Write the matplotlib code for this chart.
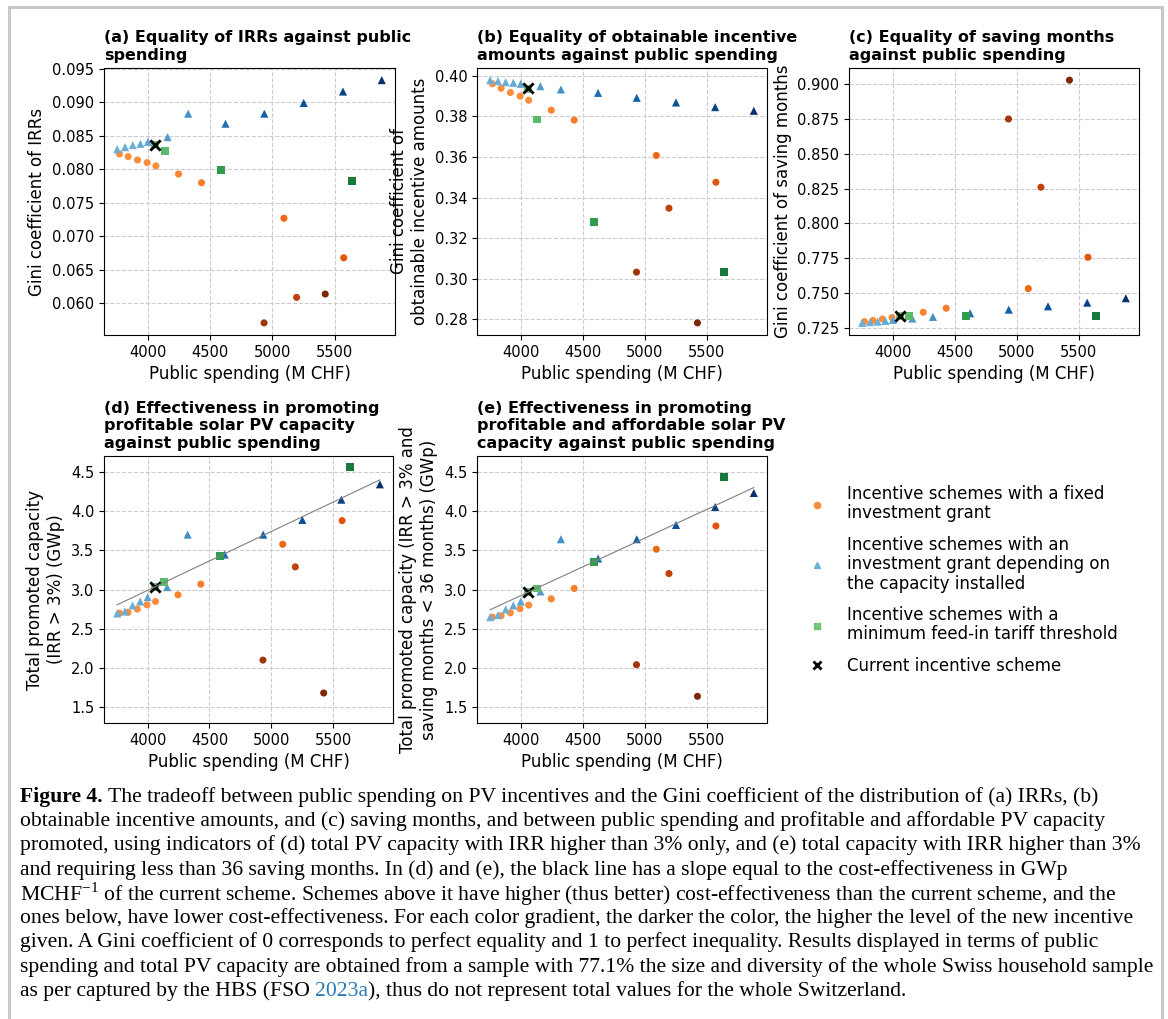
import matplotlib
matplotlib.use("Agg")
import matplotlib.pyplot as plt
from matplotlib.lines import Line2D
from matplotlib.patches import Rectangle

plt.rcParams["font.family"] = "DejaVu Sans"

# Datos
# Incentivo fijo (círculos naranjas), en orden de nivel de incentivo
fixed_spend = [3770, 3840, 3915, 3993, 4063, 4245, 4430, 5093, 5574, 5195, 4933, 5425]
fixed_gini_irr = [0.0823, 0.0819, 0.0814, 0.0810, 0.0805, 0.0793, 0.0780, 0.0727, 0.0668, 0.0609, 0.0571, 0.0614]
fixed_gini_amount = [0.3961, 0.3939, 0.3918, 0.3900, 0.3880, 0.3831, 0.3782, 0.3608, 0.3476, 0.3348, 0.3033, 0.2783]
fixed_gini_months = [0.7295, 0.7303, 0.7314, 0.7324, 0.7335, 0.7362, 0.7391, 0.7532, 0.7757, 0.8260, 0.8750, 0.9029]
fixed_cap = [2.699, 2.708, 2.750, 2.805, 2.847, 2.932, 3.068, 3.576, 3.877, 3.288, 2.101, 1.682]
fixed_cap_afford = [2.648, 2.665, 2.703, 2.754, 2.801, 2.881, 3.013, 3.513, 3.809, 3.203, 2.042, 1.640]
fixed_colors = ["#fd8d3c", "#fd8d3c", "#fd8d3c", "#fd8d3c", "#fd8d3c", "#fb8430", "#f87d2b",
                "#f06712", "#e4550c", "#c2410a", "#a1360a", "#7f2704"]

# Incentivo según capacidad instalada (triángulos azules)
cap_spend = [3752, 3815, 3877, 3939, 3999, 4157, 4323, 4623, 4935, 5252, 5568, 5880]
cap_gini_irr = [0.0830, 0.0833, 0.0836, 0.0838, 0.0841, 0.0848, 0.0883, 0.0868, 0.0883, 0.0899, 0.0916, 0.0933]
cap_gini_amount = [0.3979, 0.3974, 0.3969, 0.3966, 0.3961, 0.3949, 0.3933, 0.3916, 0.3892, 0.3869, 0.3846, 0.3828]
cap_gini_months = [0.7286, 0.7291, 0.7295, 0.7300, 0.7307, 0.7317, 0.7329, 0.7355, 0.7381, 0.7405, 0.7431, 0.7463]
cap_cap = [2.695, 2.720, 2.797, 2.847, 2.903, 3.030, 3.699, 3.445, 3.699, 3.886, 4.144, 4.339]
cap_cap_afford = [2.648, 2.674, 2.746, 2.797, 2.847, 2.975, 3.640, 3.394, 3.640, 3.822, 4.051, 4.229]
cap_colors = ["#6baed6", "#6baed6", "#6baed6", "#65a9d3", "#5fa4d0", "#539acb", "#4292c6",
              "#2171b5", "#1460a8", "#0b5199", "#0b4083", "#08306b"]

# Tarifa mínima de inyección (cuadrados verdes)
fit_spend = [4058, 4133, 4587, 5640]
fit_gini_irr = [0.0837, 0.0827, 0.0799, 0.0782]
fit_gini_amount = [0.3935, 0.3785, 0.3279, 0.3033]
fit_gini_months = [0.7334, 0.7334, 0.7334, 0.7334]
fit_cap = [3.034, 3.093, 3.424, 4.555]
fit_cap_afford = [2.966, 3.013, 3.347, 4.428]
fit_colors = ["#74c476", "#5db96b", "#2f9c50", "#177a3b"]

# Esquema actual
current_spend = 4058
current_gini_irr = 0.0837
current_gini_amount = 0.3941
current_gini_months = 0.7334
current_cap = 3.034
current_cap_afford = 2.966

W, H = 1168, 1019
fig = plt.figure(figsize=(W / 100, H / 100), dpi=100)


def px_axes(left, right, top, bottom):
    return fig.add_axes([left / W, 1 - bottom / H, (right - left) / W, (bottom - top) / H])


panels = [
    (px_axes(104, 395, 68, 335), fixed_gini_irr, cap_gini_irr, fit_gini_irr, current_gini_irr,
     "(a) Equality of IRRs against public\nspending", "Gini coefficient of IRRs", False),
    (px_axes(477, 767, 68, 335), fixed_gini_amount, cap_gini_amount, fit_gini_amount, current_gini_amount,
     "(b) Equality of obtainable incentive\namounts against public spending",
     "Gini coefficient of\nobtainable incentive amounts", False),
    (px_axes(849, 1139, 68, 335), fixed_gini_months, cap_gini_months, fit_gini_months, current_gini_months,
     "(c) Equality of saving months\nagainst public spending", "Gini coefficient of saving months", False),
    (px_axes(104, 393, 456, 723), fixed_cap, cap_cap, fit_cap, current_cap,
     "(d) Effectiveness in promoting\nprofitable solar PV capacity\nagainst public spending",
     "Total promoted capacity\n(IRR > 3%) (GWp)", True),
    (px_axes(477, 767, 456, 723), fixed_cap_afford, cap_cap_afford, fit_cap_afford, current_cap_afford,
     "(e) Effectiveness in promoting\nprofitable and affordable solar PV\ncapacity against public spending",
     "Total promoted capacity (IRR > 3% and\nsaving months < 36 months) (GWp)", True),
]

all_spend = fixed_spend + cap_spend + fit_spend
for ax, y_fixed, y_cap, y_fit, y_cur, title, ylabel, with_line in panels:
    ax.set_axisbelow(True)
    ax.grid(True, linestyle="--", color="#cccccc", linewidth=0.8)
    if with_line:
        # pendiente = coste-efectividad del esquema actual
        xs = [min(all_spend), max(all_spend)]
        ax.plot(xs, [x * y_cur / current_spend for x in xs], color="grey", linewidth=0.8)
        ax.set_ylim(1.3, 4.7)
    ax.scatter(fixed_spend, y_fixed, c=fixed_colors, marker="o", s=26, linewidths=0)
    ax.scatter(cap_spend, y_cap, c=cap_colors, marker="^", s=34, linewidths=0)
    ax.scatter(fit_spend, y_fit, c=fit_colors, marker="s", s=32, linewidths=0)
    ax.scatter([current_spend], [y_cur], c="black", marker="x", s=55, linewidths=2)
    ax.set_xticks([4000, 4500, 5000, 5500])
    ax.tick_params(labelsize=10.5)
    ax.set_xlabel("Public spending (M CHF)", fontsize=12)
    ax.set_ylabel(ylabel, fontsize=12)
    ax.set_title(title, loc="left", fontsize=11.5, fontweight="bold")

handles = [
    Line2D([], [], linestyle="none", marker="o", color="#fd8d3c", markersize=4.5),
    Line2D([], [], linestyle="none", marker="^", color="#6baed6", markersize=5),
    Line2D([], [], linestyle="none", marker="s", color="#74c476", markersize=4.5),
    Line2D([], [], linestyle="none", marker="x", color="black", markersize=6, markeredgewidth=2),
]
labels = [
    "Incentive schemes with a fixed\ninvestment grant",
    "Incentive schemes with an\ninvestment grant depending on\nthe capacity installed",
    "Incentive schemes with a\nminimum feed-in tariff threshold",
    "Current incentive scheme",
]
leg = fig.legend(handles, labels, loc="upper left", bbox_to_anchor=(785 / W, 1 - 470 / H),
                 frameon=False, fontsize=12, labelspacing=0.8, handletextpad=0.8)
for t in leg.get_texts():
    t.set_linespacing(1.1)

# Pie de figura
plt.rcParams["mathtext.fontset"] = "custom"
plt.rcParams["mathtext.rm"] = "Liberation Serif"
cap_font = dict(family="Liberation Serif", fontsize=15.6, va="center", ha="left")
caption = [
    "The tradeoff between public spending on PV incentives and the Gini coefficient of the distribution of (a) IRRs, (b)",
    "obtainable incentive amounts, and (c) saving months, and between public spending and profitable and affordable PV capacity",
    "promoted, using indicators of (d) total PV capacity with IRR higher than 3% only, and (e) total capacity with IRR higher than 3%",
    "and requiring less than 36 saving months. In (d) and (e), the black line has a slope equal to the cost-effectiveness in GWp",
    r"MCHF$^{-1}$ of the current scheme. Schemes above it have higher (thus better) cost-effectiveness than the current scheme, and the",
    "ones below, have lower cost-effectiveness. For each color gradient, the darker the color, the higher the level of the new incentive",
    "given. A Gini coefficient of 0 corresponds to perfect equality and 1 to perfect inequality. Results displayed in terms of public",
    "spending and total PV capacity are obtained from a sample with 77.1% the size and diversity of the whole Swiss household sample",
]
renderer = fig.canvas.get_renderer()


def text_width(s, **kw):
    t = fig.text(0, 0, s, **kw)
    w = t.get_window_extent(renderer).width
    t.remove()
    return w


x0 = 20
y0 = 797
dy = 24.25
bold_font = dict(cap_font, fontweight="bold")
fig.text(x0 / W, 1 - y0 / H, "Figure 4.", **bold_font)
off = text_width("Figure 4. x", **bold_font) - text_width("x", **bold_font)
fig.text((x0 + off) / W, 1 - y0 / H, caption[0], **cap_font)
for i, line in enumerate(caption[1:], start=1):
    fig.text(x0 / W, 1 - (y0 + i * dy) / H, line, **cap_font)

y_last = 1 - (y0 + 8 * dy) / H
pre = "as per captured by the HBS (FSO "
fig.text(x0 / W, y_last, pre, **cap_font)
off = text_width(pre + "x", **cap_font) - text_width("x", **cap_font)
fig.text((x0 + off) / W, y_last, "2023a", color="#2a7ab8", **cap_font)
off2 = off + text_width("2023a", **cap_font)
fig.text((x0 + off2) / W, y_last, "), thus do not represent total values for the whole Switzerland.", **cap_font)

# Marco gris
fig.add_artist(Rectangle((9 / W, -0.05), (1162 - 9) / W, 1.05 - 7 / H, transform=fig.transFigure,
                         fill=False, edgecolor="#c8c8c8", linewidth=2.2))

fig.savefig("out.png", dpi=100)
